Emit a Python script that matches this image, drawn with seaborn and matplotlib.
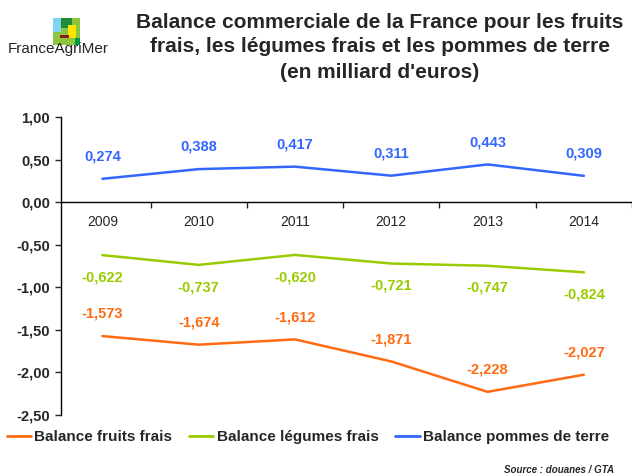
import matplotlib.pyplot as plt
import matplotlib.patches as mpatches
import seaborn as sns
import pandas as pd

years = ['2009', '2010', '2011', '2012', '2013', '2014']
fruits = [-1.573, -1.674, -1.612, -1.871, -2.228, -2.027]
legumes = [-0.622, -0.737, -0.620, -0.721, -0.747, -0.824]
pommes = [0.274, 0.388, 0.417, 0.311, 0.443, 0.309]
series_names = ['Balance fruits frais', 'Balance légumes frais', 'Balance pommes de terre']
colors = ['#FF6A13', '#99CC00', '#3366FF']

sns.set_style('white')
plt.rcParams['font.family'] = ['Liberation Sans', 'DejaVu Sans']

df = pd.DataFrame({'x': list(range(len(years))) * 3,
                   'value': fruits + legumes + pommes,
                   'serie': [s for s in series_names for _ in years]})

fig = plt.figure(figsize=(6.32, 4.75), dpi=100)
ax = fig.add_axes([61 / 632, 60 / 475, 571 / 632, 298 / 475])

sns.lineplot(data=df, x='x', y='value', hue='serie', palette=colors,
             hue_order=series_names, linewidth=1.8, ax=ax, legend=False)

def fmt(v):
    return f'{v:.3f}'.replace('.', ',')

for vals, col, dy in [(fruits, colors[0], 16), (legumes, colors[1], -16), (pommes, colors[2], 16)]:
    for i, v in enumerate(vals):
        ax.annotate(fmt(v), (i, v), xytext=(0, dy), textcoords='offset points',
                    ha='center', va='center', color=col, fontsize=10.5, fontweight='bold')

ax.set_ylim(-2.5, 1.0)
ax.set_xlim(-0.43, 5.5)
ax.set_yticks([1.0, 0.5, 0.0, -0.5, -1.0, -1.5, -2.0, -2.5])
ax.set_yticklabels([f'{t:.2f}'.replace('.', ',') for t in ax.get_yticks()],
                   fontsize=10.5, fontweight='bold')
ax.set_xticks(range(len(years)))
ax.set_xticklabels(years, fontsize=10.5, fontweight='bold')
ax.set_xticks([i + 0.5 for i in range(len(years))], minor=True)
ax.spines['bottom'].set_position(('data', 0))
ax.spines['top'].set_visible(False)
ax.spines['right'].set_visible(False)
for sp in ['left', 'bottom']:
    ax.spines[sp].set_color('black')
    ax.spines[sp].set_linewidth(1.0)
ax.tick_params(axis='y', direction='out', length=4, width=1, left=True, pad=4)
ax.tick_params(axis='x', which='major', length=0, pad=9)
ax.tick_params(axis='x', which='minor', direction='out', length=4, width=1, bottom=True)
ax.set_xlabel('')
ax.set_ylabel('')

fig.text(0.601, 1 - 47 / 475, "Balance commerciale de la France pour les fruits\n"
         "frais, les légumes frais et les pommes de terre\n(en milliard d'euros)",
         ha='center', va='center', fontsize=15, fontweight='bold', linespacing=1.4)

# logo
lg = fig.add_axes([53 / 632, 430 / 475, 27 / 632, 27 / 475])
lg.set_xlim(0, 4)
lg.set_ylim(0, 4)
lg.axis('off')
for (x, y, w, h, c) in [(0, 0, 4, 4, '#8CC63F'), (0, 2, 1.2, 2, '#7FD3F0'), (1.2, 2.5, 1.6, 1.5, '#1E8C3A'),
                        (2.2, 1, 1.2, 2, '#FFE600'), (1, 1, 1.3, 0.5, '#8B1A1A'), (3.2, 0, 0.8, 1, '#009944')]:
    lg.add_patch(mpatches.Rectangle((x, y), w, h, color=c, lw=0))
fig.text(58 / 632, 1 - 49 / 475, 'FranceAgriMer', ha='center', va='center', fontsize=11,
         family=['Liberation Sans Narrow', 'Liberation Sans', 'DejaVu Sans'])

handles = [plt.Line2D([], [], color=c, lw=2) for c in colors]
fig.legend(handles, series_names, loc='center', bbox_to_anchor=(0.487, 1 - 437 / 475), ncol=3,
           frameon=False, prop={'weight': 'bold', 'size': 11}, handlelength=1.6,
           handletextpad=0.2, columnspacing=1.1)

fig.text(0.972, 1 - 470 / 475, 'Source : douanes / GTA', ha='right', va='center',
         fontsize=7, fontweight='bold', style='italic')

fig.savefig('out.png', dpi=100)
